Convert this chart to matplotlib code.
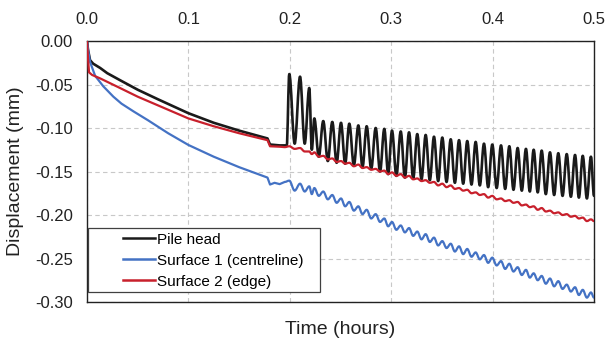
import matplotlib
matplotlib.use("Agg")
import matplotlib.pyplot as plt
from matplotlib.path import Path
from matplotlib.patches import PathPatch, Rectangle
from matplotlib.lines import Line2D

plt.rcParams['font.family'] = ['Liberation Sans', 'DejaVu Sans']

# --- loading cycles: times (hours) of the rebound peaks and the settlement troughs ---
peak_t = [0.1995, 0.2101, 0.2192, 0.2242, 0.2330, 0.2419, 0.2505, 0.2587, 0.2676, 0.2758,
          0.2847, 0.2932, 0.3008, 0.3094, 0.3176, 0.3257, 0.3340, 0.3422, 0.3504, 0.3587,
          0.3669, 0.3750, 0.3833, 0.3915, 0.3997, 0.4083, 0.4165, 0.4247, 0.4329, 0.4405,
          0.4484, 0.4566, 0.4648, 0.4731, 0.4813, 0.4889, 0.4970]
trough_t = [0.2048, 0.2147, 0.2217, 0.2286, 0.2375, 0.2462, 0.2546, 0.2632, 0.2717, 0.2803,
            0.2890, 0.2970, 0.3051, 0.3135, 0.3217, 0.3299, 0.3381, 0.3463, 0.3546, 0.3628,
            0.3710, 0.3792, 0.3874, 0.3956, 0.4040, 0.4124, 0.4206, 0.4288, 0.4367, 0.4445,
            0.4525, 0.4607, 0.4690, 0.4772, 0.4851, 0.4930, 0.5000]

# --- Pile head ---
pile_lead_t = [0, 0.001, 0.003, 0.006, 0.013, 0.02, 0.0325, 0.05, 0.07, 0.1, 0.125, 0.15,
               0.178, 0.1805, 0.19, 0.197]
pile_lead_y = [0, -0.010, -0.022, -0.026, -0.031, -0.037, -0.045, -0.056, -0.067, -0.083,
               -0.094, -0.103, -0.112, -0.119, -0.120, -0.120]
pile_peak = [-0.038, -0.041, -0.054, -0.089, -0.092, -0.093, -0.094, -0.095, -0.097, -0.098,
             -0.100, -0.101, -0.103, -0.104, -0.105, -0.107, -0.108, -0.110, -0.111, -0.113,
             -0.114, -0.115, -0.116, -0.118, -0.119, -0.120, -0.121, -0.123, -0.124, -0.125,
             -0.126, -0.128, -0.129, -0.130, -0.131, -0.132, -0.133]
pile_trough = [-0.118, -0.118, -0.125, -0.133, -0.138, -0.140, -0.141, -0.143, -0.145, -0.147,
               -0.150, -0.153, -0.155, -0.157, -0.158, -0.159, -0.160, -0.161, -0.162, -0.163,
               -0.164, -0.165, -0.166, -0.168, -0.169, -0.170, -0.171, -0.172, -0.173, -0.174,
               -0.176, -0.177, -0.178, -0.179, -0.180, -0.181, -0.178]

# --- Surface 1 (centreline) ---
s1_lead_t = [0, 0.001, 0.003, 0.008, 0.016, 0.026, 0.034, 0.046, 0.06, 0.08, 0.1, 0.125,
             0.15, 0.178, 0.1805, 0.185, 0.19, 0.195]
s1_lead_y = [0, -0.010, -0.024, -0.040, -0.052, -0.064, -0.072, -0.081, -0.091, -0.106,
             -0.1195, -0.133, -0.145, -0.157, -0.165, -0.163, -0.1645, -0.162]
s1_peak = [-0.1605, -0.164, -0.167, -0.169, -0.173, -0.177, -0.181, -0.185, -0.190, -0.194,
           -0.199, -0.204, -0.208, -0.212, -0.215, -0.219, -0.222, -0.226, -0.230, -0.233,
           -0.236, -0.239, -0.243, -0.246, -0.249, -0.253, -0.256, -0.260, -0.263, -0.267,
           -0.270, -0.273, -0.276, -0.280, -0.283, -0.286, -0.289]
s1_trough = [-0.172, -0.173, -0.176, -0.178, -0.182, -0.186, -0.190, -0.195, -0.199, -0.204,
             -0.208, -0.213, -0.217, -0.220, -0.224, -0.228, -0.231, -0.235, -0.238, -0.242,
             -0.245, -0.248, -0.251, -0.255, -0.258, -0.262, -0.265, -0.269, -0.272, -0.275,
             -0.279, -0.282, -0.285, -0.288, -0.292, -0.295, -0.295]

# --- Surface 2 (edge) ---
s2_lead_t = [0, 0.001, 0.002, 0.005, 0.013, 0.0325, 0.05, 0.07, 0.1, 0.125, 0.15, 0.178,
             0.1805, 0.19, 0.195]
s2_lead_y = [0, -0.020, -0.036, -0.039, -0.043, -0.054, -0.064, -0.074, -0.089, -0.098,
             -0.106, -0.114, -0.121, -0.1215, -0.122]
s2_peak = [-0.121, -0.123, -0.127, -0.128, -0.132, -0.135, -0.138, -0.140, -0.142, -0.145,
           -0.147, -0.149, -0.151, -0.153, -0.155, -0.158, -0.160, -0.162, -0.164, -0.166,
           -0.169, -0.171, -0.174, -0.176, -0.178, -0.181, -0.183, -0.185, -0.188, -0.190,
           -0.192, -0.195, -0.197, -0.199, -0.201, -0.203, -0.205]
s2_trough = [-0.124, -0.127, -0.130, -0.133, -0.136, -0.139, -0.141, -0.144, -0.146, -0.148,
             -0.150, -0.153, -0.155, -0.157, -0.159, -0.161, -0.163, -0.166, -0.168, -0.170,
             -0.172, -0.175, -0.177, -0.180, -0.182, -0.184, -0.186, -0.189, -0.191, -0.194,
             -0.196, -0.198, -0.200, -0.202, -0.204, -0.207, -0.207]

labels = ["Pile head", "Surface 1 (centreline)", "Surface 2 (edge)"]
colors = ["#1a1a1a", "#4472C4", "#C8202C"]


def series_path(lead_t, lead_y, peaks, troughs):
    # straight segments for the monotonic part, smoothed curves through the cycle extrema
    verts = [(lead_t[0], lead_y[0])]
    codes = [Path.MOVETO]
    for t, y in zip(lead_t[1:], lead_y[1:]):
        verts.append((t, y))
        codes.append(Path.LINETO)
    ext = []
    for pt, pv, tt, tv in zip(peak_t, peaks, trough_t, troughs):
        ext.append((pt, pv))
        ext.append((tt, tv))
    prev = verts[-1]
    for t, y in ext:
        dx = (t - prev[0]) * 0.36
        verts += [(prev[0] + dx, prev[1]), (t - dx, y), (t, y)]
        codes += [Path.CURVE4] * 3
        prev = (t, y)
    return Path(verts, codes)


fig = plt.figure(figsize=(6.06, 3.47), dpi=100)
ax = fig.add_axes([0.14356, 0.12968, 0.83663, 0.75216])

series = [
    (pile_lead_t, pile_lead_y, pile_peak, pile_trough, 1.9),
    (s1_lead_t, s1_lead_y, s1_peak, s1_trough, 1.6),
    (s2_lead_t, s2_lead_y, s2_peak, s2_trough, 1.6),
]
for (lt, ly, pk, tr, lw), c in zip(series, colors):
    ax.add_patch(PathPatch(series_path(lt, ly, pk, tr), facecolor="none", edgecolor=c,
                           lw=lw, joinstyle="round", capstyle="round", zorder=3))

ax.set_xlim(0, 0.5)
ax.set_ylim(-0.30, 0.0)
ax.set_xticks([0, 0.1, 0.2, 0.3, 0.4, 0.5])
ax.set_yticks([0, -0.05, -0.10, -0.15, -0.20, -0.25, -0.30])
ax.xaxis.tick_top()
ax.xaxis.set_label_position("bottom")
ax.xaxis.set_major_formatter(plt.FuncFormatter(lambda v, p: f"{v:.1f}"))
ax.yaxis.set_major_formatter(plt.FuncFormatter(lambda v, p: f"{v:.2f}"))
ax.tick_params(axis="both", length=0, labelsize=12, colors="#222222")
ax.tick_params(axis="x", pad=10)
ax.tick_params(axis="y", pad=10)
ax.grid(True, color="#c8c8c8", linestyle=(0, (4, 3)), linewidth=0.8, zorder=0)
ax.set_axisbelow(True)
for s in ax.spines.values():
    s.set_color("#222222")
    s.set_linewidth(1.0)

ax.set_xlabel("Time (hours)", fontsize=14, labelpad=14, color="#222222")
ax.set_ylabel("Displacement (mm)", fontsize=14, labelpad=8, color="#222222")

# legend box
ax.add_patch(Rectangle((0.002, 0.039), 0.458, 0.246, transform=ax.transAxes,
                       facecolor="white", edgecolor="#404040", lw=0.9, zorder=4))
handles = [Line2D([], [], color=c, lw=1.8) for c in colors]
leg = ax.legend(handles, labels, loc="upper left", bbox_to_anchor=(0.071, 0.266),
                frameon=False, borderpad=0, borderaxespad=0, handlelength=2.1,
                handletextpad=0.15, labelspacing=0.46, fontsize=11)
leg.set_zorder(5)

fig.savefig("out.png", dpi=100)
